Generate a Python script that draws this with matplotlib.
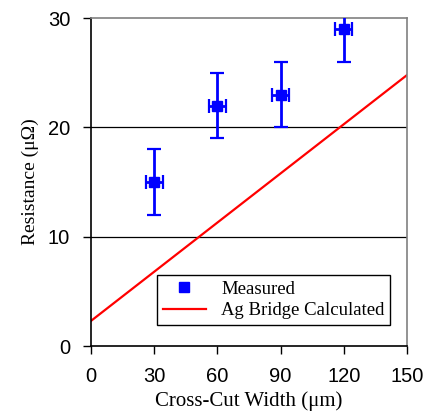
import matplotlib
matplotlib.use('Agg')
import matplotlib.pyplot as plt
from matplotlib.lines import Line2D

# measured data
width = [30, 60, 90, 120]
resistance = [15, 22, 23, 29]
width_err = [4, 4, 4, 4]
res_err = [3, 3, 3, 3]

# calculated Ag bridge line
calc_x = [0, 150]
calc_y = [2.3, 24.8]

x_ticks = [0, 30, 60, 90, 120, 150]
y_ticks = [0, 10, 20, 30]

fig = plt.figure(figsize=(4.29, 4.12), dpi=100)
ax = fig.add_axes([0.212, 0.160, 0.737, 0.796])

for y in [10, 20]:
    ax.axhline(y, color='black', lw=0.9, zorder=1)

ax.plot(calc_x, calc_y, color='red', lw=1.6, zorder=2)
ax.errorbar(width, resistance, xerr=width_err, yerr=res_err, fmt='s', color='blue',
            ms=7, elinewidth=2, capsize=5, capthick=1.6, zorder=3)

ax.set_xlim(0, 150)
ax.set_ylim(0, 30)
ax.set_xticks(x_ticks)
ax.set_yticks(y_ticks)
ax.tick_params(direction='out', length=6, width=1, labelsize=14.5, pad=9)
for lab in ax.get_xticklabels() + ax.get_yticklabels():
    lab.set_family('Liberation Sans')

ax.spines['top'].set_color('gray')
ax.spines['right'].set_color('gray')
for s in ax.spines.values():
    s.set_linewidth(1.2)

ax.set_xlabel('Cross-Cut Width (μm)', family='Liberation Serif', fontsize=15, labelpad=4)
ax.set_ylabel('Resistance (μΩ)', family='Liberation Serif', fontsize=14, labelpad=6)

handles = [Line2D([], [], marker='s', color='blue', ls='none', ms=7),
           Line2D([], [], color='red', lw=1.6)]
labels = ['Measured', 'Ag Bridge Calculated']
leg = ax.legend(handles, labels, loc='lower right', bbox_to_anchor=(0.946, 0.064),
                prop={'family': 'Liberation Serif', 'size': 13.5}, frameon=True,
                fancybox=False, edgecolor='black', borderpad=0.3, handlelength=2.3,
                labelspacing=0.25, borderaxespad=0)
leg.get_frame().set_linewidth(1)
leg.get_frame().set_alpha(1)

fig.savefig('out.png', dpi=100)
